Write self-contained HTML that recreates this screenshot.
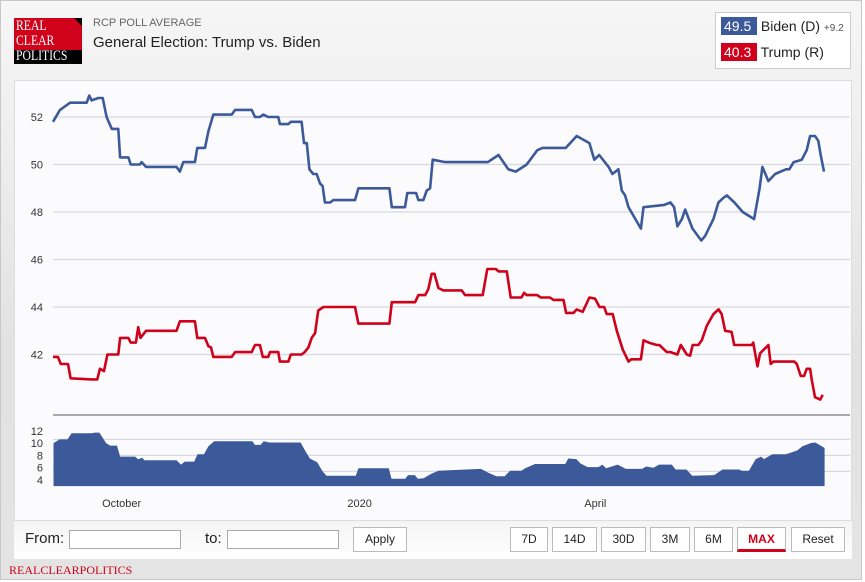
<!DOCTYPE html>
<html><head><meta charset="utf-8">
<style>
*{box-sizing:border-box;margin:0;padding:0}
body{width:865px;height:582px;background:#fff;font-family:"Liberation Sans",sans-serif;overflow:hidden;position:relative}
#outer{position:absolute;left:0;top:0;width:862px;height:580px;border:1px solid #c8c8c8;background:linear-gradient(#f6f6f6,#e2e2e2 60%,#e4e4e4)}
.abs{position:absolute}
.btn{position:absolute;top:527px;height:25px;border:1px solid #bbb;background:#fff;font-size:12px;color:#222;text-align:center;line-height:23px}
.inp{position:absolute;top:530px;height:19px;border:1px solid #aaa;background:#fff}
</style></head><body>
<div id="outer"></div>
<div class="abs" style="left:14px;top:18px;width:68px;height:46px;background:#000;overflow:hidden">
  <div style="position:absolute;left:0;top:0;width:68px;height:32px;background:#d0021b;clip-path:polygon(0 0,60px 0,68px 8px,68px 32px,0 32px)"></div>
  <div style="position:absolute;left:2px;top:1px;font-family:'Liberation Serif',serif;font-size:15px;line-height:15px;color:#fff;transform:scaleX(0.78);transform-origin:0 0;white-space:nowrap">REAL<br>CLEAR<br>POLITICS</div>
</div>
<div class="abs" style="left:93px;top:17px;font-size:11px;color:#666">RCP POLL AVERAGE</div>
<div class="abs" style="left:93px;top:34px;font-size:15px;color:#222">General Election: Trump vs. Biden</div>
<div class="abs" style="left:715px;top:12px;width:136px;height:57px;background:#fff;border:1px solid #ccc"></div>
<div class="abs" style="left:721px;top:17px;font-size:14px;color:#222;white-space:nowrap"><span style="display:inline-block;background:#3c5a99;color:#fff;padding:1px 3px;width:36px">49.5</span> Biden (D) <span style="font-size:10px;color:#555">+9.2</span></div>
<div class="abs" style="left:721px;top:43px;font-size:14px;color:#222;white-space:nowrap"><span style="display:inline-block;background:#d0021b;color:#fff;padding:1px 3px;width:36px">40.3</span> Trump (R)</div>
<div class="abs" style="left:14px;top:80px;width:838px;height:441px;background:#fbfbfd;border:1px solid #ddd"></div>
<svg id="chart" class="abs" style="left:0;top:0" width="865" height="582"></svg>
<div class="abs" style="left:14px;top:521px;width:838px;height:38px;background:linear-gradient(#f4f4f4,#fff)"></div>
<div class="abs" style="left:25px;top:530px;font-size:15px;color:#222">From:</div>
<div class="inp" style="left:69px;width:112px"></div>
<div class="abs" style="left:205px;top:530px;font-size:15px;color:#222">to:</div>
<div class="inp" style="left:227px;width:112px"></div>
<div class="btn" style="left:353px;width:54px">Apply</div>
<div class="btn" style="left:510px;width:38px">7D</div>
<div class="btn" style="left:552px;width:45px">14D</div>
<div class="btn" style="left:601px;width:45px">30D</div>
<div class="btn" style="left:650px;width:40px">3M</div>
<div class="btn" style="left:694px;width:39px">6M</div>
<div class="btn" style="left:737px;width:49px;color:#d0021b;font-weight:bold;border-bottom:3px solid #d0021b">MAX</div>
<div class="btn" style="left:791px;width:54px">Reset</div>
<div class="abs" style="left:9px;top:563px;font-family:'Liberation Serif',serif;font-size:12px;color:#d0021b">REALCLEARPOLITICS</div>
<script>
const bidenDays=[0,2.7,6.6,13,14,14.9,17.5,19.2,20.7,22.7,25.2,25.9,29.1,30,33.6,34.2,35.9,47.7,49,50.3,54.8,55.7,58.7,60,61.9,69,70.3,76.7,78,79.9,81.2,83.1,87,87.6,90.9,91.8,96,96.9,98,99,100.5,101.8,103.1,104.1,105,107,108.2,116.6,117.9,129.9,130.8,135.9,136.8,140.2,141.1,143,144.3,145.6,146.6,151.4,167.9,172,175.8,178.7,182.9,187,189,198,202.2,207.1,209,210.9,214.5,216,218.3,219.6,220.9,222.2,227,228,236,238.4,239.8,241.1,242.8,244.1,246.9,250.3,251.8,255,256.9,258.9,260.2,263.1,266.3,270.7,272.8,273.9,276.2,278.8,283,284.3,286,289.1,291,292.3,294.2,295.5,296.4,297.7];
const bidenVals=[51.8,52.3,52.6,52.6,52.9,52.7,52.8,52.8,52.0,51.5,51.5,50.3,50.3,50.0,50.0,50.1,49.9,49.9,49.7,50.1,50.1,50.7,50.7,51.4,52.1,52.1,52.3,52.3,52.0,52.0,52.1,52.0,52.0,51.7,51.7,51.8,51.8,50.9,50.9,49.8,49.6,49.6,49.2,49.1,48.4,48.4,48.5,48.5,49.0,49.0,48.2,48.2,48.8,48.8,48.5,48.5,48.9,49.0,50.2,50.1,50.1,50.4,49.8,49.7,50.0,50.6,50.7,50.7,51.2,50.9,50.2,50.4,49.9,49.6,49.8,48.9,48.7,48.2,47.3,48.2,48.3,48.4,48.2,47.4,47.7,48.1,47.3,46.8,47.0,47.7,48.4,48.6,48.7,48.4,48.0,47.7,49.0,49.9,49.3,49.6,49.8,49.8,50.1,50.2,50.6,51.2,51.2,51.0,50.4,49.7,49.5];
const trumpDays=[0,1.9,3,5.8,6.8,14.9,17.1,18.1,19.7,21,25.2,25.9,29.1,30,32,32.9,33.8,35.9,47.7,49,54.8,55.7,58.7,60,61,61.9,69,70.3,76.7,78,79.9,81,83.1,83.8,87,87.6,90.9,91.8,96,97.2,98.6,99.9,101.2,102.4,104.4,116.6,117.9,129.9,130.8,139.8,141.1,143.7,144.9,146.2,147.3,148.8,150.7,157.8,159.1,165.9,167.7,171,172,175.2,176.7,180.9,181.9,182.9,187,188.3,191.9,193.2,197.1,198.1,201,202.2,204.5,207.1,209.3,211,212.8,213.8,216.1,217.7,220,222.2,223.3,227,228,230,233.1,234.1,237,238.4,241.1,242.4,244.7,246,247,249.2,250.5,252.4,255,257,258.2,259.5,262,263,269.8,270.4,271,272,273,276.2,277.1,278.2,286.2,287.2,288.7,290,291,292.3,293,294.2,296.2,297.2,298.1];
const trumpVals=[41.9,41.9,41.6,41.6,41.0,40.95,40.95,41.4,41.3,42.0,42.0,42.7,42.7,42.5,42.5,43.15,42.7,43.0,43.0,43.4,43.4,42.7,42.7,42.35,42.3,41.9,41.9,42.1,42.1,42.4,42.4,41.9,41.9,42.1,42.1,41.7,41.7,42.0,42.0,42.1,42.3,42.7,42.9,43.85,44.0,44.0,43.3,43.3,44.2,44.2,44.5,44.5,44.75,45.4,45.4,44.8,44.7,44.7,44.5,44.5,45.6,45.6,45.5,45.5,44.4,44.4,44.6,44.5,44.5,44.4,44.4,44.3,44.3,43.75,43.75,43.9,43.8,44.4,44.35,44.0,44.0,43.7,43.7,43.0,42.2,41.7,41.8,41.8,42.6,42.5,42.4,42.4,42.1,42.1,42.0,42.4,42.0,41.95,42.4,42.4,42.6,43.2,43.7,43.9,43.7,43.0,42.95,42.4,42.4,42.5,42.1,41.5,42.05,42.4,41.6,41.7,41.7,41.6,41.1,41.1,41.4,41.4,40.9,40.2,40.1,40.3];
const spreadDays=[0.2,2.5,5.6,7.2,14.8,16.2,17.9,20.5,22.1,24.7,25.9,31.7,32.8,34.5,35.3,47.7,49.4,50.9,54.5,55.8,58.3,60,62.2,77,77.9,80.1,81.4,83.5,95.6,97.7,99.2,102,104.1,105.6,116.9,117.9,129.6,130.7,136,137.1,139.7,140.9,143.1,146,148.8,159.5,165.2,168,171.2,174.4,176.5,180.8,182.3,186.1,197.8,198.9,202.1,203.6,206.4,210.6,212.1,213.6,218,221.2,227.5,229,231.8,234,238.9,240.4,244.6,246.8,255.3,258.5,264.9,266,268.7,271.3,273.4,274.5,277.7,283,287.3,289.4,292.6,294.3,296.4,297.9];
const spreadVals=[10.0,10.6,10.6,11.6,11.6,11.7,11.7,10.0,9.6,9.6,7.8,7.8,7.4,7.6,7.2,7.2,6.5,7.0,7.0,8.2,8.2,9.5,10.3,10.3,9.7,9.7,10.3,10.1,10.1,8.5,7.5,6.9,5.4,4.7,4.7,5.9,5.9,4.2,4.2,4.8,4.8,4.2,4.3,5.0,5.5,5.7,5.8,5.2,4.6,4.6,5.5,5.5,5.9,6.6,6.6,7.5,7.4,6.7,6.1,6.1,6.5,5.9,6.5,5.8,5.8,6.2,6.0,6.5,6.5,5.7,5.7,4.7,4.8,5.7,5.7,5.5,5.5,7.4,7.8,7.4,8.2,8.2,8.8,9.5,10.0,10.1,9.6,9.2];
const mainTicks=[52,50,48,46,44,42];
const spreadTicks=[12,10,8,6,4];
const spreadGrid=[10.6,8.0,5.4];
const xLabels=["October","2020","April"];
const xLabelDays=[26.5,118.4,209.4];

const NS="http://www.w3.org/2000/svg";
const svg=document.getElementById('chart');
const xs=d=>53+d*2.59;
const ym=v=>117+(52-v)*23.75;
const ys=v=>480-(v-4)*6.15;
function mk(tag,attrs){const e=document.createElementNS(NS,tag);for(const k in attrs)e.setAttribute(k,attrs[k]);svg.appendChild(e);return e;}

mainTicks.forEach(t=>{
  const g=mk('line',{x1:53,x2:850,y1:ym(t),y2:ym(t),stroke:'#d8d8e0','stroke-width':1.2});
  
  
  const l=mk('text',{x:43,y:ym(t)+4,'text-anchor':'end','font-size':11,fill:'#333','font-family':'Liberation Sans, sans-serif'});
  l.textContent=t;
  
  
});
const sep=mk('line',{x1:53,x2:850,y1:415,y2:415,stroke:'#aaa','stroke-width':2});


spreadGrid.forEach(t=>{
  const g=mk('line',{x1:53,x2:850,y1:ys(t),y2:ys(t),stroke:'#d8d8e0','stroke-width':1.2});
  
  
});
spreadTicks.forEach(t=>{
  const l=mk('text',{x:43,y:ys(t)+4,'text-anchor':'end','font-size':11,fill:'#333','font-family':'Liberation Sans, sans-serif'});
  l.textContent=t;
  
  
});
let ap='M'+xs(spreadDays[0])+','+ys(3);
spreadDays.forEach((d,i)=>{ap+=' L'+xs(d).toFixed(1)+','+ys(spreadVals[i]).toFixed(1);});
ap+=' L'+xs(spreadDays[spreadDays.length-1]).toFixed(1)+','+ys(3)+' Z';
const area=mk('path',{d:ap,fill:'#3c5a99'});


function line(days,vals,color,name){
  const pts=days.map((d,i)=>xs(d).toFixed(1)+','+ym(vals[i]).toFixed(1)).join(' ');
  const p=mk('polyline',{points:pts,fill:'none',stroke:color,'stroke-width':2.6,'stroke-linejoin':'round'});
  
  
}
line(bidenDays,bidenVals,'#3c5a99','biden-line');
line(trumpDays,trumpVals,'#d0021b','trump-line');
xLabels.forEach((s,i)=>{
  const l=mk('text',{x:xs(xLabelDays[i]),y:507,'text-anchor':'middle','font-size':11,fill:'#333','font-family':'Liberation Sans, sans-serif'});
  l.textContent=s;
  
  
});
</script>
</body></html>
